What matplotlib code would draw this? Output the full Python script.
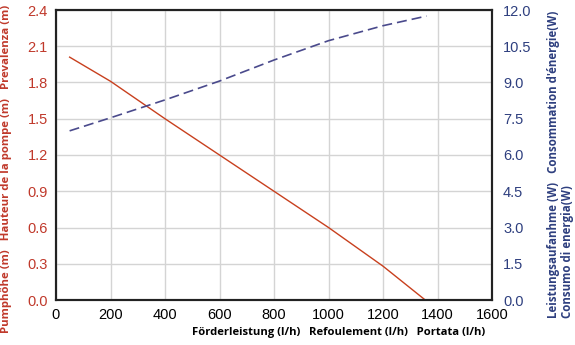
import matplotlib
matplotlib.use("Agg")
import matplotlib.pyplot as plt

flow_head = [50, 200, 400, 600, 800, 1000, 1200, 1355]
head = [2.01, 1.81, 1.50, 1.20, 0.90, 0.60, 0.28, 0.0]

flow_power = [50, 200, 400, 600, 800, 1000, 1200, 1360]
power = [7.0, 7.54, 8.28, 9.06, 9.93, 10.73, 11.35, 11.75]

x_ticks = [0, 200, 400, 600, 800, 1000, 1200, 1400, 1600]
head_ticks = [0.0, 0.3, 0.6, 0.9, 1.2, 1.5, 1.8, 2.1, 2.4]
power_ticks = [0.0, 1.5, 3.0, 4.5, 6.0, 7.5, 9.0, 10.5, 12.0]

RED = "#c8401e"
RED_TXT = "#c0392b"
BLUE_TXT = "#2e3f7f"
BLUE_LINE = "#4a4a8c"

plt.rcParams['font.family'] = ['Liberation Sans', 'DejaVu Sans']

fig = plt.figure(figsize=(5.75, 3.45), dpi=100)
ax = fig.add_axes([56/575, 1-300/345, 436/575, 290/345])
ax2 = ax.twinx()

ax.plot(flow_head, head, color=RED, lw=1.0, zorder=3)
ax2.plot(flow_power, power, color=BLUE_LINE, lw=1.2, dashes=(6, 3), zorder=3)

ax.set_xlim(0, 1600)
ax.set_ylim(0, 2.4)
ax2.set_ylim(0, 12)
ax.set_xticks(x_ticks)
ax.set_xticklabels([str(v) for v in x_ticks], fontsize=10.5, color="black")
ax.set_yticks(head_ticks)
ax.set_yticklabels([f"{v:.1f}" for v in head_ticks], fontsize=10.5, color=RED_TXT)
ax2.set_yticks(power_ticks)
ax2.set_yticklabels([f"{v:.1f}" for v in power_ticks], fontsize=10.5, color=BLUE_TXT)

ax.grid(True, color="#d4d4d4", lw=1.0)
ax.set_axisbelow(True)
ax.tick_params(length=0, pad=6)
ax2.tick_params(length=0, pad=8)
for a in (ax, ax2):
    for s in a.spines.values():
        s.set_linewidth(1.5)
        s.set_color("#222222")

fig.text(7/575, 1-169/345, "Pumphöhe (m)   Hauteur de la pompe (m)   Prevalenza (m)",
         rotation=90, ha="center", va="center", color=RED_TXT, fontsize=8.2,
         fontweight="bold", family=["Open Sans", "DejaVu Sans"])
fig.text(561/575, 1-318/345, "Leistungsaufanhme (W)   Consommation d'énergie(W)\nConsumo di energia(W)",
         rotation=90, ha="center", va="bottom", multialignment="left", color=BLUE_TXT,
         fontsize=8.3, fontweight="bold", family=["Open Sans", "DejaVu Sans"], linespacing=1.1)
fig.text(339/575, 1-332/345, "Förderleistung (l/h)   Refoulement (l/h)   Portata (l/h)",
         ha="center", va="center", color="black", fontsize=8.1, fontweight="bold",
         family=["Open Sans", "DejaVu Sans"])

fig.savefig("out.png", dpi=100)
